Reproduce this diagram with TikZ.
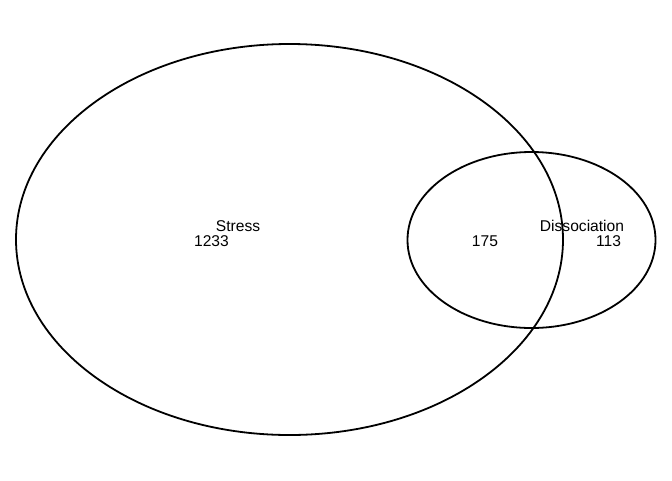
\documentclass[tikz,border=0pt]{standalone}
\usepackage{fontspec}
\setmainfont{Liberation Sans}
\usetikzlibrary{shapes.geometric}

\begin{document}
\begin{tikzpicture}[
    x=1pt, y=-1pt,
    set/.style={ellipse, draw, line width=1.8pt, inner sep=0pt, outer sep=0pt},
    lbl/.style={font=\fontsize{15.6}{18}\selectfont, anchor=base, inner sep=0pt},
]
    \useasboundingbox (0,0) rectangle (672,480);

    % -- sets --
    \node[set, minimum width=547pt, minimum height=391pt] (stress) at (289.5, 239.5) {};
    \node[set, minimum width=248pt, minimum height=176pt] (dissoc) at (531.5, 240) {};

    % -- set names --
    \node[lbl] (stressname) at (238, 231) {Stress};
    \node[lbl] (dissocname) at (582, 231) {Dissociation};

    % -- counts --
    \node[lbl] (nstress) at (211.5, 246) {1233};
    \node[lbl] (nboth) at (485, 246) {175};
    \node[lbl] (ndissoc) at (608.5, 246) {113};

\end{tikzpicture}
\end{document}
